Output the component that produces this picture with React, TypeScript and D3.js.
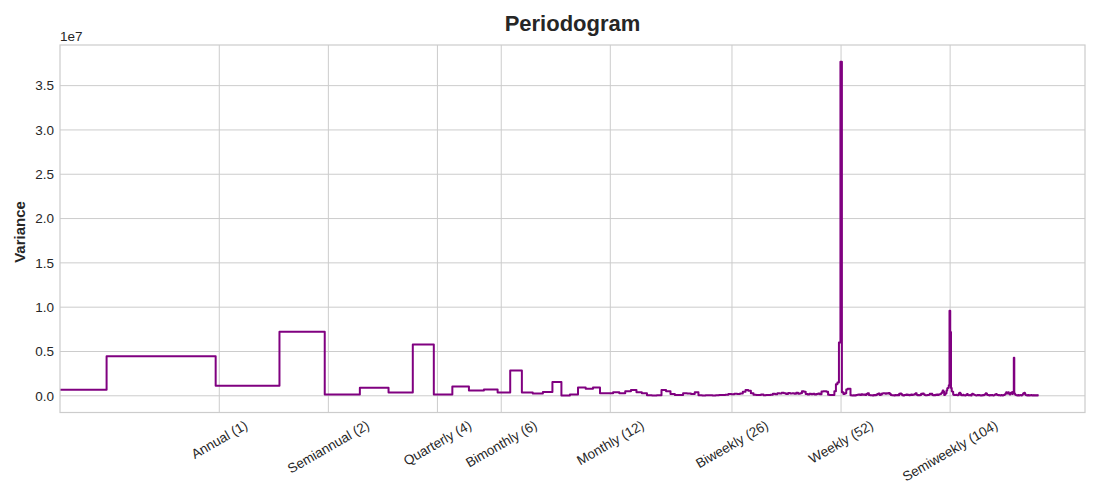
import * as React from 'react'
import { useEffect, useRef } from 'react'
import * as d3 from 'd3'

// daily series, 747 samples, frequency expressed in cycles per year
const sampleRate = 365
const sampleCount = 747

const tickFreqs = [1, 2, 4, 6, 12, 26, 52, 104]
const tickLabels = [
  'Annual (1)',
  'Semiannual (2)',
  'Quarterly (4)',
  'Bimonthly (6)',
  'Monthly (12)',
  'Biweekly (26)',
  'Weekly (52)',
  'Semiweekly (104)',
]
const yTicks = [0, 0.5, 1, 1.5, 2, 2.5, 3, 3.5]

// spectrum (units of 1e7) for frequency bins k = 1..373
const variance = [
  0.068, 0.445, 0.113, 0.724, 0.015, 0.090, 0.037, 0.580, 0.015, 0.105,
  0.060, 0.071, 0.037, 0.286, 0.037, 0.026, 0.042, 0.155, 0.003, 0.015,
  0.094, 0.079, 0.094, 0.030, 0.030, 0.040, 0.030, 0.050, 0.064, 0.040,
  0.030, 0.005, 0.004, 0.006, 0.065, 0.050, 0.020, 0.010, 0.008, 0.030,
  0.025, 0.020, 0.040, 0.006, 0.004, 0.005, 0.007, 0.004, 0.006, 0.010,
  0.008, 0.012, 0.020, 0.018, 0.022, 0.020, 0.025, 0.045, 0.064, 0.058,
  0.030, 0.012, 0.008, 0.010, 0.014, 0.006, 0.010, 0.008, 0.012, 0.022,
  0.018, 0.030, 0.025, 0.035, 0.028, 0.020, 0.032, 0.026, 0.030, 0.022,
  0.034, 0.024, 0.030, 0.050, 0.045, 0.020, 0.015, 0.024, 0.018, 0.022,
  0.016, 0.020, 0.025, 0.018, 0.048, 0.052, 0.050, 0.045, 0.012, 0.008,
  0.010, 0.008, 0.050, 0.130, 0.150, 0.600, 3.770, 0.040, 0.020, 0.030,
  0.070, 0.080, 0.080, 0.005, 0.003, 0.006, 0.004, 0.008, 0.012, 0.015,
  0.010, 0.018, 0.012, 0.015, 0.010, 0.020, 0.030, 0.008, 0.005, 0.006,
  0.004, 0.008, 0.006, 0.012, 0.020, 0.026, 0.010, 0.015, 0.025, 0.030,
  0.028, 0.022, 0.030, 0.025, 0.032, 0.020, 0.008, 0.005, 0.006, 0.004,
  0.008, 0.005, 0.010, 0.006, 0.022, 0.025, 0.018, 0.006, 0.004, 0.008,
  0.010, 0.015, 0.008, 0.012, 0.006, 0.010, 0.014, 0.008, 0.012, 0.016,
  0.020, 0.030, 0.012, 0.006, 0.008, 0.005, 0.010, 0.024, 0.020, 0.026,
  0.018, 0.008, 0.006, 0.005, 0.008, 0.010, 0.012, 0.022, 0.020, 0.024,
  0.010, 0.006, 0.008, 0.005, 0.012, 0.008, 0.015, 0.010, 0.014, 0.018,
  0.020, 0.030, 0.040, 0.060, 0.045, 0.010, 0.020, 0.030, 0.060, 0.085,
  0.090, 0.120, 0.960, 0.720, 0.087, 0.050, 0.045, 0.015, 0.008, 0.010,
  0.010, 0.012, 0.008, 0.006, 0.010, 0.030, 0.035, 0.025, 0.010, 0.006,
  0.008, 0.012, 0.005, 0.006, 0.004, 0.008, 0.015, 0.020, 0.010, 0.006,
  0.005, 0.008, 0.006, 0.004, 0.018, 0.022, 0.020, 0.015, 0.012, 0.008,
  0.006, 0.004, 0.005, 0.008, 0.006, 0.010, 0.008, 0.006, 0.004, 0.006,
  0.004, 0.005, 0.008, 0.006, 0.010, 0.015, 0.020, 0.028, 0.025, 0.012,
  0.008, 0.010, 0.006, 0.004, 0.008, 0.005, 0.006, 0.010, 0.008, 0.005,
  0.004, 0.006, 0.008, 0.015, 0.018, 0.020, 0.015, 0.010, 0.008, 0.006,
  0.010, 0.006, 0.005, 0.004, 0.006, 0.008, 0.005, 0.004, 0.006, 0.008,
  0.010, 0.015, 0.020, 0.030, 0.040, 0.035, 0.025, 0.030, 0.040, 0.028,
  0.020, 0.015, 0.025, 0.035, 0.030, 0.040, 0.020, 0.030, 0.045, 0.430,
  0.030, 0.020, 0.012, 0.008, 0.006, 0.005, 0.004, 0.006, 0.008, 0.005,
  0.004, 0.006, 0.005, 0.008, 0.006, 0.004, 0.010, 0.012, 0.020, 0.030,
  0.025, 0.035, 0.030, 0.015, 0.008, 0.005, 0.006, 0.004, 0.005, 0.008,
  0.006, 0.004, 0.005, 0.004, 0.006, 0.005, 0.008, 0.006, 0.004, 0.005,
  0.006, 0.004, 0.005, 0.006, 0.004, 0.005, 0.006, 0.004, 0.005, 0.006,
  0.004, 0.005, 0.004,
]

const FONT = '"Liberation Sans", Arial, Helvetica, sans-serif'
const TEXT = '#262626'
const GRID = '#cccccc'

export default function App() {
  const svgRef = useRef<SVGSVGElement>(null)

  useEffect(() => {
    if (!svgRef.current) return
    const svg = d3.select(svgRef.current)
    svg.selectAll('*').remove()

    const left = 60
    const right = 1085
    const top = 45
    const bottom = 412.5

    // frequency grid of the periodogram bins
    const freqs = variance.map((_, i) => ((i + 1) * sampleRate) / sampleCount)

    // log-space autoscale with 5% margins
    const lo = Math.log10(freqs[0])
    const hi = Math.log10(freqs[freqs.length - 1])
    const pad = (hi - lo) * 0.05
    const x = d3.scaleLog()
      .domain([10 ** (lo - pad), 10 ** (hi + pad)])
      .range([left, right])

    const yMin = Math.min(0, d3.min(variance) as number)
    const yMax = d3.max(variance) as number
    const yPad = (yMax - yMin) * 0.05
    const y = d3.scaleLinear()
      .domain([yMin - yPad, yMax + yPad])
      .range([bottom, top])

    svg.append('defs').append('clipPath')
      .attr('id', 'plot-clip')
      .append('rect')
      .attr('x', left)
      .attr('y', top)
      .attr('width', right - left)
      .attr('height', bottom - top)

    // grid
    const grid = svg.append('g')
    grid.selectAll('line.vgrid')
      .data(tickFreqs)
      .join('line')
      .attr('class', 'vgrid')
      .attr('x1', d => x(d))
      .attr('x2', d => x(d))
      .attr('y1', top)
      .attr('y2', bottom)
      .attr('stroke', GRID)
      .attr('stroke-width', 1)
    grid.selectAll('line.hgrid')
      .data(yTicks)
      .join('line')
      .attr('class', 'hgrid')
      .attr('x1', left)
      .attr('x2', right)
      .attr('y1', d => y(d))
      .attr('y2', d => y(d))
      .attr('stroke', GRID)
      .attr('stroke-width', 1)

    // step line (steps-pre), first bin extends to the left edge
    const pts: [number, number][] = [[x.domain()[0] * 0.5, variance[0]]]
    freqs.forEach((f, i) => pts.push([f, variance[i]]))
    const line = d3.line<[number, number]>()
      .x(d => x(d[0]))
      .y(d => y(d[1]))
      .curve(d3.curveStepBefore)

    svg.append('path')
      .datum(pts)
      .attr('d', line)
      .attr('fill', 'none')
      .attr('stroke', '#800080')
      .attr('stroke-width', 2)
      .attr('stroke-linejoin', 'round')
      .attr('clip-path', 'url(#plot-clip)')

    // frame
    svg.append('rect')
      .attr('x', left)
      .attr('y', top)
      .attr('width', right - left)
      .attr('height', bottom - top)
      .attr('fill', 'none')
      .attr('stroke', GRID)
      .attr('stroke-width', 1.2)

    // y tick labels
    svg.append('g')
      .selectAll('text')
      .data(yTicks)
      .join('text')
      .attr('x', 54)
      .attr('y', d => y(d))
      .attr('dy', '0.35em')
      .attr('text-anchor', 'end')
      .attr('font-family', FONT)
      .attr('font-size', 13.5)
      .attr('fill', TEXT)
      .text(d => d3.format('.1f')(d))

    // offset text
    svg.append('text')
      .attr('x', left)
      .attr('y', 41)
      .attr('font-family', FONT)
      .attr('font-size', 13.5)
      .attr('fill', TEXT)
      .text('1e7')

    // x tick labels, rotated 30deg, centered on tick
    const xl = svg.append('g')
    tickFreqs.forEach((f, i) => {
      const t = xl.append('text')
        .attr('text-anchor', 'middle')
        .attr('dy', '0.35em')
        .attr('font-family', FONT)
        .attr('font-size', 13.5)
        .attr('fill', TEXT)
        .text(tickLabels[i])
      const w = (t.node() as SVGTextElement).getComputedTextLength()
      const h = 15
      const boxH = w * Math.sin(Math.PI / 6) + h * Math.cos(Math.PI / 6)
      const cy = bottom + 5 + boxH / 2
      t.attr('transform', `translate(${x(f)},${cy}) rotate(-30)`)
    })

    // title and axis label
    svg.append('text')
      .attr('x', (left + right) / 2)
      .attr('y', 31)
      .attr('text-anchor', 'middle')
      .attr('font-family', FONT)
      .attr('font-size', 22)
      .attr('font-weight', 'bold')
      .attr('fill', TEXT)
      .text('Periodogram')

    svg.append('text')
      .attr('transform', `translate(25,232) rotate(-90)`)
      .attr('text-anchor', 'middle')
      .attr('font-family', FONT)
      .attr('font-size', 15)
      .attr('font-weight', 'bold')
      .attr('fill', TEXT)
      .text('Variance')
  }, [])

  return (
    <div style={{ position: 'absolute', left: 0, top: 0 }}>
      <svg ref={svgRef} width={1100} height={500} style={{ display: 'block', background: '#fff' }} />
    </div>
  )
}
